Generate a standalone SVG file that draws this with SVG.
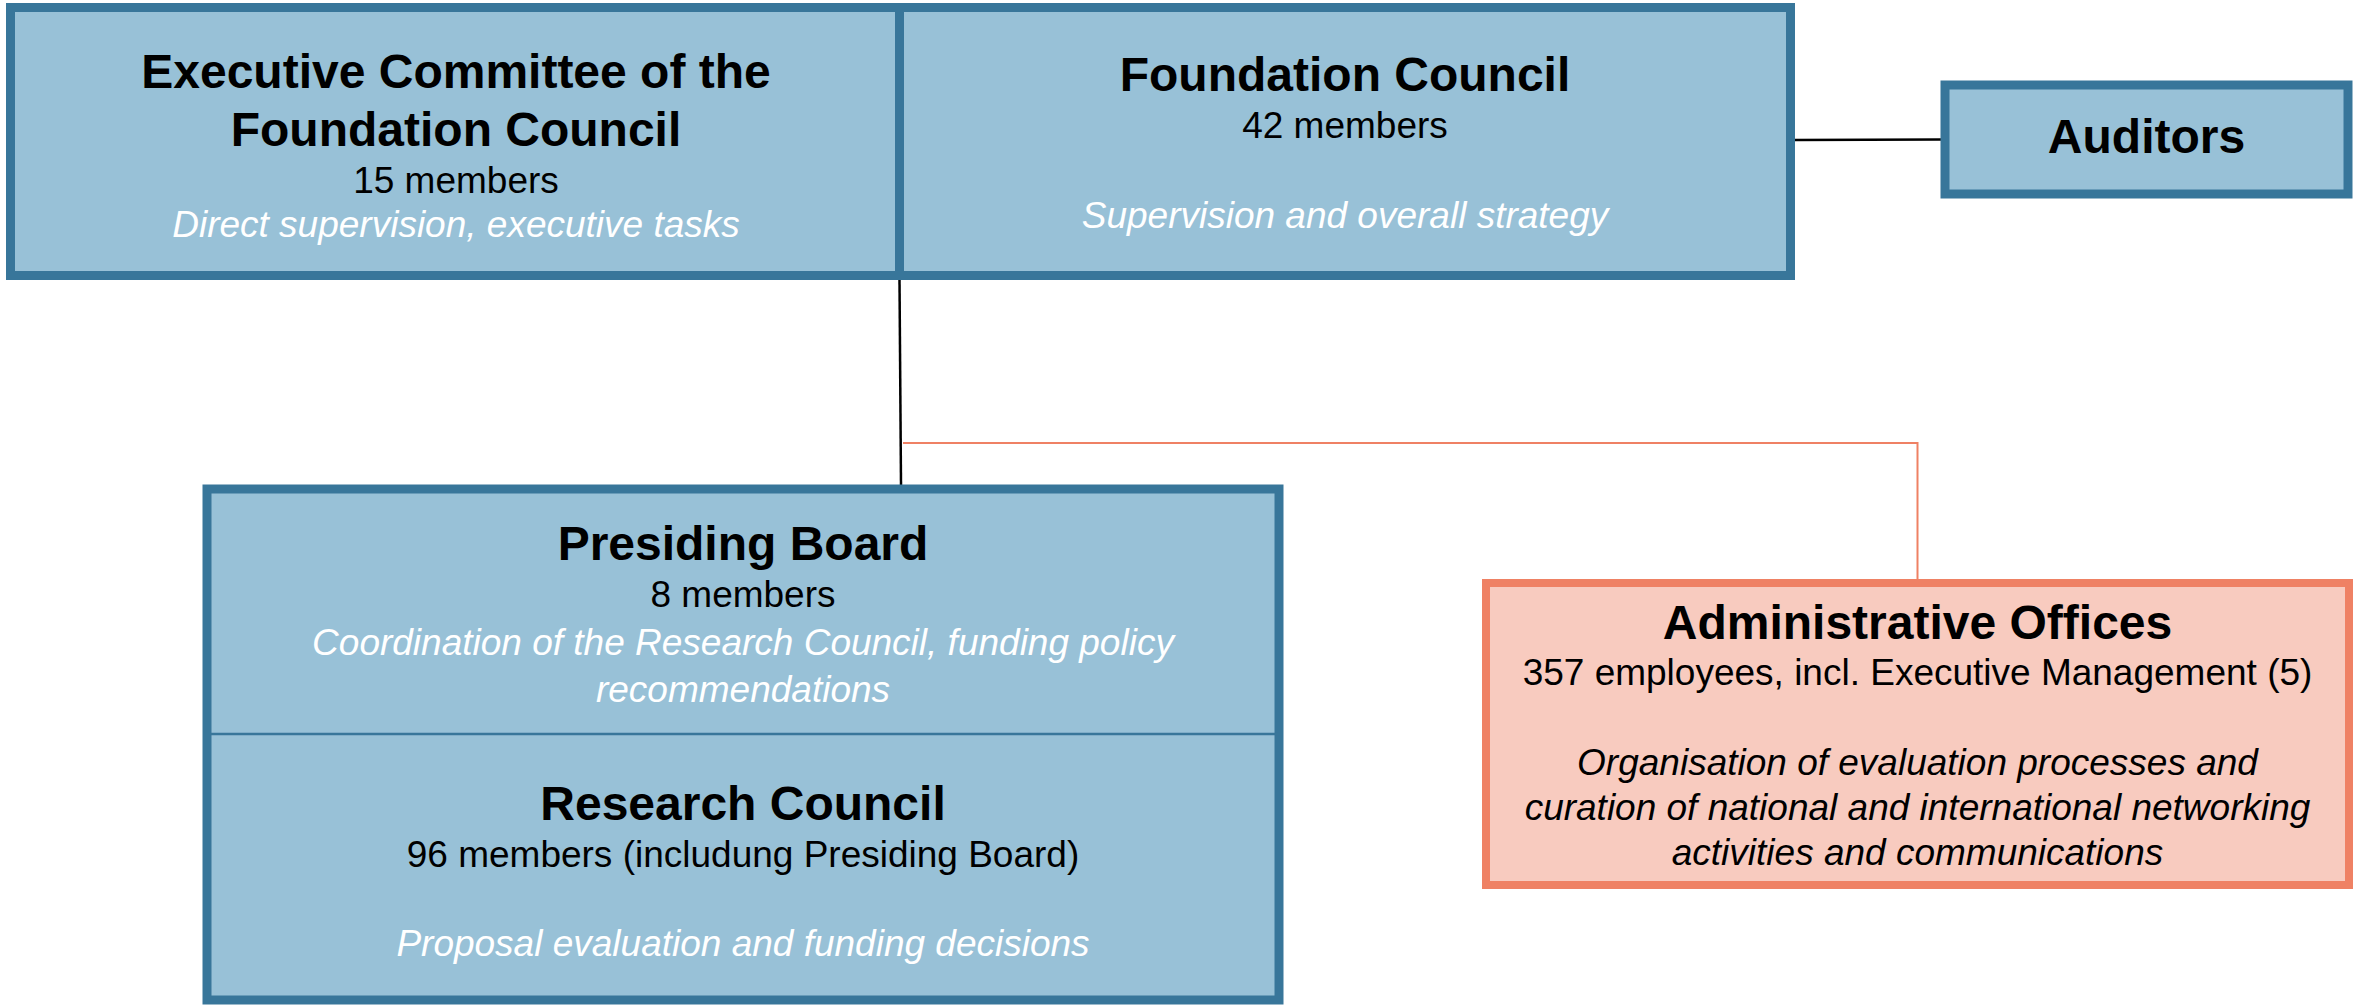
<svg xmlns="http://www.w3.org/2000/svg" width="2359" height="1005" viewBox="0 0 2359 1005">
<style>
  .blue { fill: #98C1D7; stroke: #38769A; stroke-width: 9; }
  .orange { fill: #F8CBBF; stroke: #EF8164; stroke-width: 8; }
  .t { font-family: "Liberation Sans", Arial, sans-serif; text-anchor: middle; }
  .title { font-size: 48px; font-weight: bold; fill: #000; }
  .sub { font-size: 37px; fill: #000; }
  .desc { font-size: 37px; font-style: italic; fill: #FFFFFF; }
  .descd { font-size: 37px; font-style: italic; fill: #000; }
</style>
<rect width="2359" height="1005" fill="#FFFFFF"/>
<g id="connectors" fill="none">
  <line x1="899.5" y1="280" x2="901" y2="485" stroke="#000" stroke-width="2.5"/>
  <line x1="1795" y1="140" x2="1941" y2="139.5" stroke="#000" stroke-width="2.5"/>
  <path d="M903 443 H1917.5 V579" stroke="#EF8164" stroke-width="2"/>
</g>
<g id="executive-committee">
  <rect class="blue" x="10.5" y="7.5" width="891" height="268"/>
  <text class="t title" x="456" y="88">Executive Committee of the</text>
  <text class="t title" x="456" y="146">Foundation Council</text>
  <text class="t sub" x="456" y="193">15 members</text>
  <text class="t desc" x="456" y="237">Direct supervision, executive tasks</text>
</g>
<g id="foundation-council">
  <rect class="blue" x="899.5" y="7.5" width="891" height="268"/>
  <text class="t title" x="1345" y="91">Foundation Council</text>
  <text class="t sub" x="1345" y="138">42 members</text>
  <text class="t desc" x="1345" y="228">Supervision and overall strategy</text>
</g>
<g id="auditors">
  <rect class="blue" x="1945" y="85" width="403" height="109" stroke-width="8"/>
  <text class="t title" x="2146.5" y="153">Auditors</text>
</g>
<g id="presiding-board">
  <rect class="blue" x="207" y="489" width="1072" height="511" stroke-width="8"/>
  <line x1="211" y1="734" x2="1279" y2="734" stroke="#38769A" stroke-width="2.5"/>
  <text class="t title" x="743" y="560">Presiding Board</text>
  <text class="t sub" x="743" y="607">8 members</text>
  <text class="t desc" x="743" y="655">Coordination of the Research Council, funding policy</text>
  <text class="t desc" x="743" y="702">recommendations</text>
</g>
<g id="research-council">
  <text class="t title" x="743" y="820">Research Council</text>
  <text class="t sub" x="743" y="867">96 members (includung Presiding Board)</text>
  <text class="t desc" x="743" y="956">Proposal evaluation and funding decisions</text>
</g>
<g id="administrative-offices">
  <rect class="orange" x="1486" y="583" width="863" height="302"/>
  <text class="t title" x="1917.5" y="639">Administrative Offices</text>
  <text class="t sub" x="1917.5" y="685">357 employees, incl. Executive Management (5)</text>
  <text class="t descd" x="1917.5" y="775">Organisation of evaluation processes and</text>
  <text class="t descd" x="1917.5" y="820">curation of national and international networking</text>
  <text class="t descd" x="1917.5" y="865">activities and communications</text>
</g>
</svg>
